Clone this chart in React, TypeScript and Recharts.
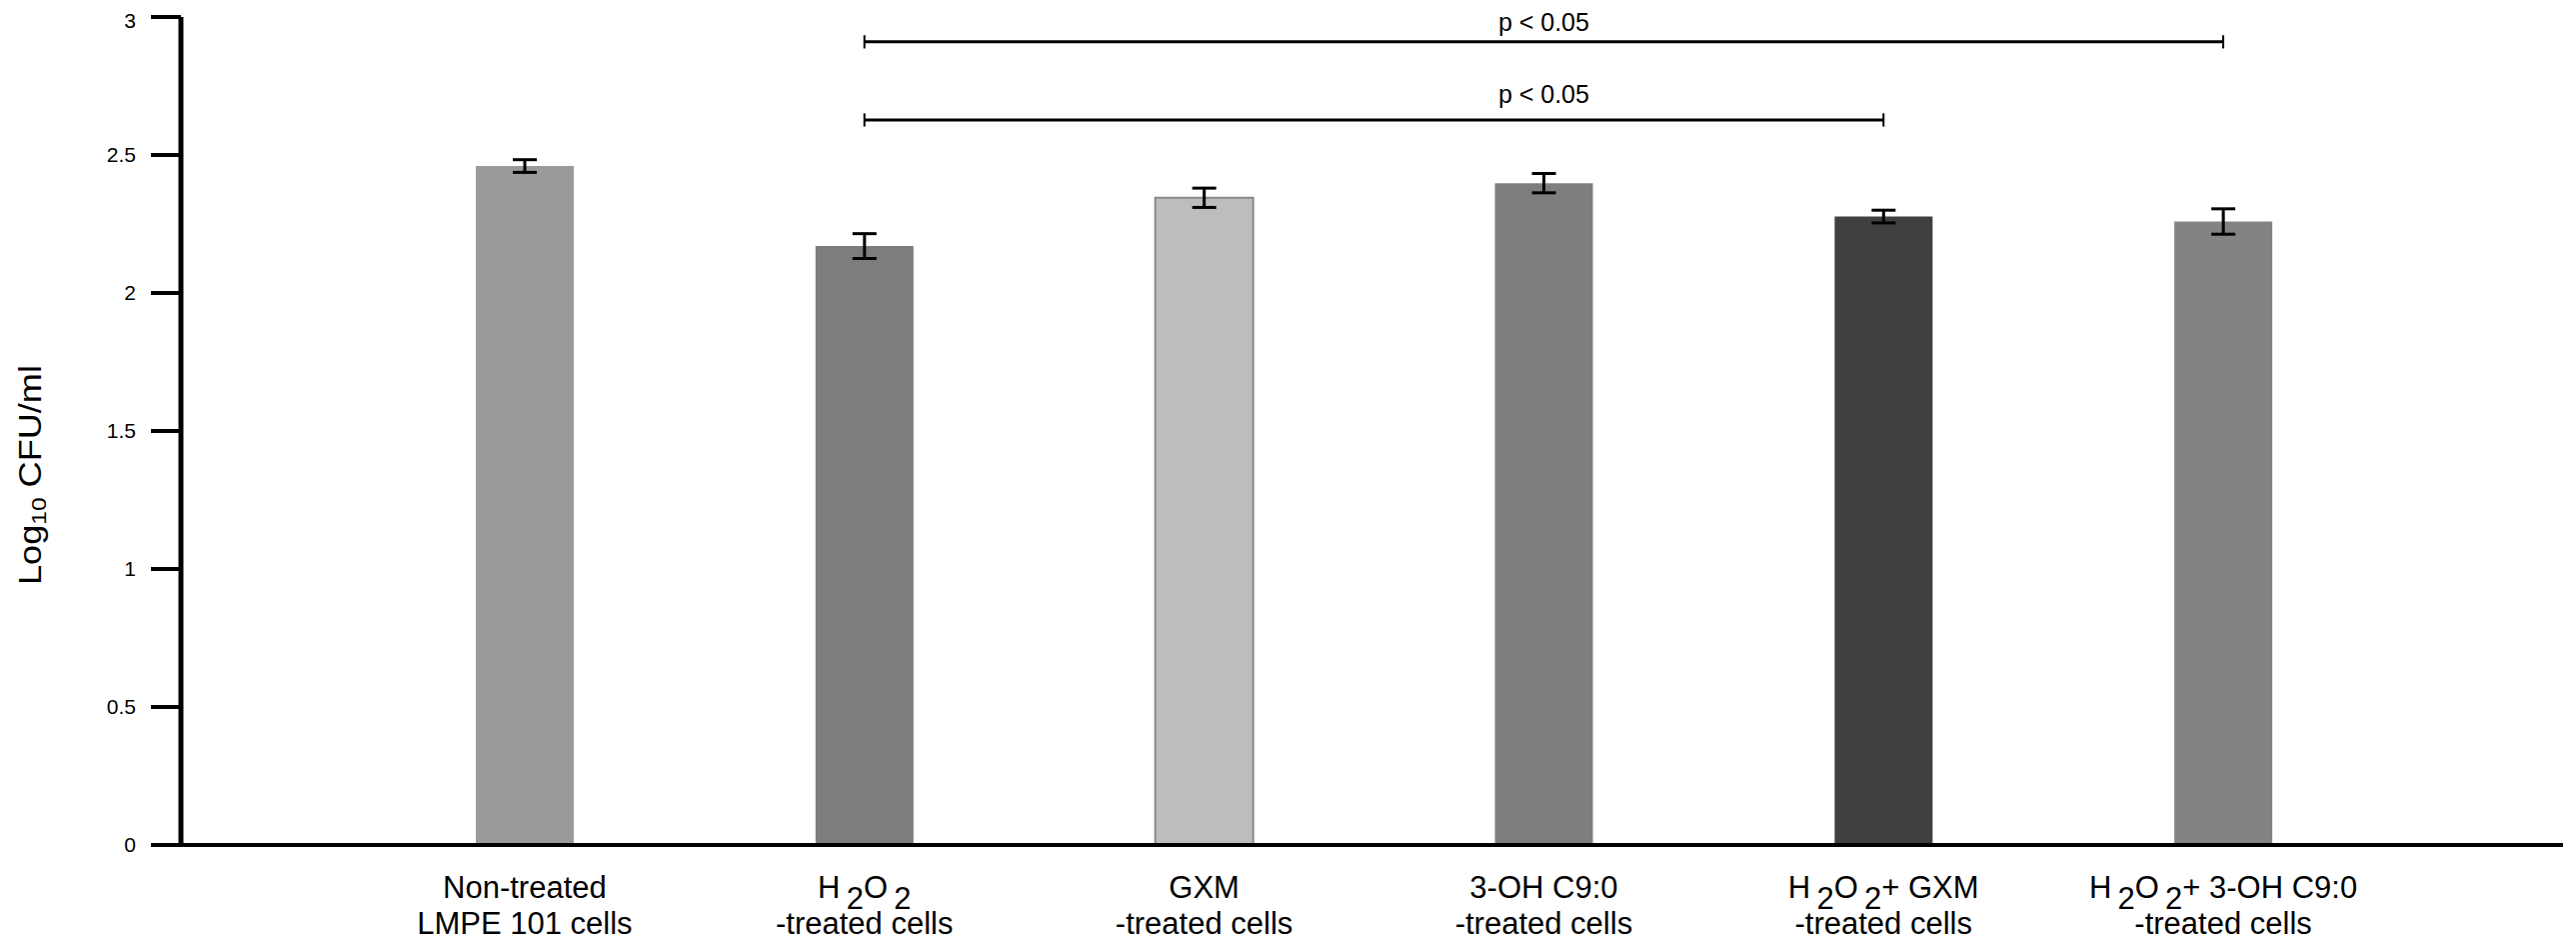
import React from "react";
import {
  BarChart,
  Bar,
  Cell,
  XAxis,
  YAxis,
  ErrorBar,
  ReferenceLine,
  ReferenceDot,
} from "recharts";

// groups on the x axis
const categories = ["Non-treated", "H2O2", "GXM", "3-OH C9:0", "H2O2+GXM", "H2O2+3-OH C9:0"];
// first / second line of each tick label, "_2" marks a subscript 2
const labelLine1 = ["Non-treated", "H _2O _2", "GXM", "3-OH C9:0", "H _2O _2+ GXM", "H _2O _2+ 3-OH C9:0"];
const labelLine2 = ["LMPE 101 cells", "-treated cells", "-treated cells", "-treated cells", "-treated cells", "-treated cells"];
// Log10 CFU/ml, mean and error
const means = [2.46, 2.17, 2.345, 2.398, 2.277, 2.259];
const errors = [0.023, 0.045, 0.035, 0.035, 0.023, 0.046];
const barColors = ["#9a9a9a", "#7d7d7d", "#bdbdbd", "#7e7e7e", "#404040", "#838383"];
const barStrokes = ["none", "none", "#888888", "none", "none", "none"];
const yTicks = [0, 0.5, 1, 1.5, 2, 2.5, 3];

// significance brackets
const bracketFrom = ["H2O2", "H2O2"];
const bracketTo = ["H2O2+3-OH C9:0", "H2O2+GXM"];
const bracketY = [2.91, 2.627];
const bracketText = ["p < 0.05", "p < 0.05"];
const bracketTextY = [2.982, 2.722];
const bracketTextAt = "3-OH C9:0";

const FONT = '"Liberation Sans", Arial, Helvetica, sans-serif';
const SUB = 11;

const data = categories.map((name, i) => ({
  name,
  mean: means[i],
  err: errors[i],
}));

const renderLine = (text: string) => {
  // split into plain parts and subscripts
  const parts = text.split(/(_2)/).filter((p) => p !== "");
  let lowered = false;
  return parts.map((p, k) => {
    if (p === "_2") {
      const el = (
        <tspan key={k} dy={lowered ? 0 : SUB}>
          2
        </tspan>
      );
      lowered = true;
      return el;
    }
    const el = (
      <tspan key={k} dy={lowered ? -SUB : 0}>
        {p.replace(/ $/, "\u2009")}
      </tspan>
    );
    lowered = false;
    return el;
  });
};

const XTick = (props: any) => {
  const { x, y, payload } = props;
  const i = categories.indexOf(payload.value);
  return (
    <g>
      <text x={x} y={y + 53} textAnchor="middle" fontSize={31} fontFamily={FONT} fill="#000">
        {renderLine(labelLine1[i])}
      </text>
      <text x={x} y={y + 89} textAnchor="middle" fontSize={31} fontFamily={FONT} fill="#000">
        {labelLine2[i]}
      </text>
    </g>
  );
};

const YLabel = (props: any) => {
  const { viewBox } = props;
  const cx = viewBox.x + 22;
  const cy = viewBox.y + viewBox.height / 2 + 44;
  return (
    <text
      x={cx}
      y={cy}
      transform={`rotate(-90 ${cx} ${cy})`}
      textAnchor="middle"
      dominantBaseline="central"
      fontSize={31}
      fontFamily={FONT}
      fill="#000"
      textLength={220}
      lengthAdjust="spacingAndGlyphs"
    >
      Log
      <tspan fontSize={21} dy={8}>
        10
      </tspan>
      <tspan dy={-8}> CFU/ml</tspan>
    </text>
  );
};

export default function App() {
  return (
    <div style={{ width: 2569, height: 934, background: "#fff" }}>
      <BarChart
        width={2569}
        height={934}
        data={data}
        margin={{ top: 9, right: 13, left: 0, bottom: 0 }}
        barSize={98}
        style={{ overflow: "visible" }}
      >
        <XAxis
          dataKey="name"
          type="category"
          height={97}
          padding={{ left: 174, right: 170 }}
          axisLine={{ stroke: "#000", strokeWidth: 4 }}
          tickLine={false}
          tickSize={0}
          tickMargin={0}
          interval={0}
          tick={<XTick />}
        />
        <YAxis
          type="number"
          domain={[0, 3]}
          ticks={yTicks}
          width={173}
          axisLine={{ stroke: "#000", strokeWidth: 5 }}
          tickLine={{ stroke: "#000", strokeWidth: 4 }}
          tickSize={30}
          tickMargin={15}
          tick={{ fontSize: 21, fill: "#000", fontFamily: FONT }}
          label={<YLabel />}
        />
        <Bar dataKey="mean" isAnimationActive={false}>
          {data.map((d, i) => (
            <Cell
              key={d.name}
              fill={barColors[i]}
              stroke={barStrokes[i]}
              strokeWidth={barStrokes[i] === "none" ? 0 : 2}
            />
          ))}
          <ErrorBar
            dataKey="err"
            direction="y"
            width={12}
            stroke="#000"
            strokeWidth={3}
            isAnimationActive={false}
          />
        </Bar>
        {bracketY.map((y, i) => (
          <ReferenceLine
            key={`b${i}`}
            segment={[
              { x: bracketFrom[i], y },
              { x: bracketTo[i], y },
            ]}
            stroke="#000"
            strokeWidth={3}
            ifOverflow="visible"
          />
        ))}
        {bracketY.map((y, i) => (
          <ReferenceLine
            key={`l${i}`}
            segment={[
              { x: bracketFrom[i], y: y - 0.024 },
              { x: bracketFrom[i], y: y + 0.024 },
            ]}
            stroke="#000"
            strokeWidth={2}
            ifOverflow="visible"
          />
        ))}
        {bracketY.map((y, i) => (
          <ReferenceLine
            key={`r${i}`}
            segment={[
              { x: bracketTo[i], y: y - 0.024 },
              { x: bracketTo[i], y: y + 0.024 },
            ]}
            stroke="#000"
            strokeWidth={2}
            ifOverflow="visible"
          />
        ))}
        {bracketText.map((t, i) => (
          <ReferenceDot
            key={`t${i}`}
            x={bracketTextAt}
            y={bracketTextY[i]}
            r={0}
            fill="none"
            stroke="none"
            ifOverflow="visible"
            label={{
              value: t,
              position: "center",
              fontSize: 25,
              fill: "#000",
              fontFamily: FONT,
            }}
          />
        ))}
      </BarChart>
    </div>
  );
}
